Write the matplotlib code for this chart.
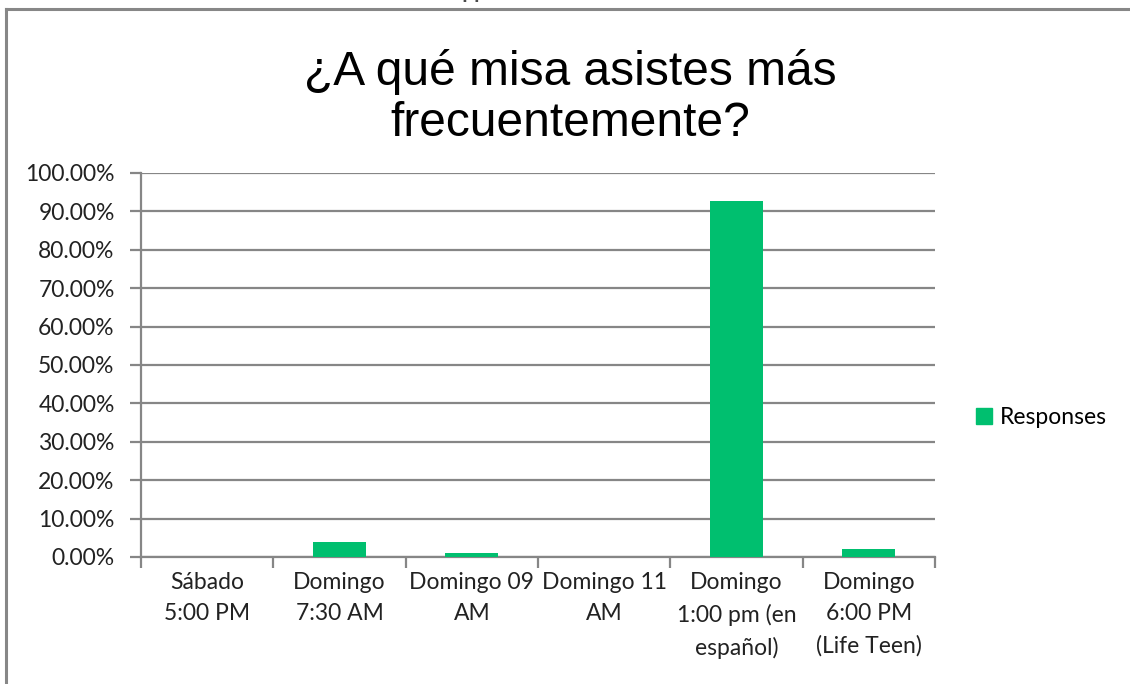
import numpy as np
import matplotlib.pyplot as plt
from matplotlib.ticker import FixedLocator, PercentFormatter
from matplotlib.lines import Line2D

# data
categories = ['Sábado\n5:00 PM', 'Domingo\n7:30 AM', 'Domingo 09\nAM',
              'Domingo 11\nAM', 'Domingo\n1:00 pm (en\nespañol)',
              'Domingo\n6:00 PM\n(Life Teen)']
responses = [0.0, 4.0, 0.96, 0.0, 92.7, 2.0]
yticks = [0, 10, 20, 30, 40, 50, 60, 70, 80, 90, 100]

green = '#00BF6F'
grid = '#868686'
tickfont = 'Lato'
fs = 16.5

fig = plt.figure(figsize=(11.3, 6.84), dpi=100)
ax = fig.add_axes([0.1248, 0.1857, 0.7026, 0.5614])

x = np.arange(len(categories))
ax.bar(x, responses, width=0.4, color=green, zorder=3)

ax.set_xlim(-0.5, len(categories) - 0.5)
ax.set_ylim(0, 100)
ax.set_yticks(yticks)
ax.yaxis.set_major_formatter(PercentFormatter(decimals=2))
ax.yaxis.grid(True, color=grid, linewidth=1.6, zorder=0)
ax.set_axisbelow(True)

ax.set_xticks(x)
ax.set_xticklabels(categories, fontsize=fs, family=tickfont, color='#222222',
                   linespacing=1.6, va='top')
ax.xaxis.set_minor_locator(FixedLocator(np.arange(-0.5, len(categories), 1)))
ax.tick_params(axis='x', which='major', length=0, pad=11)
ax.tick_params(axis='x', which='minor', length=8, width=1.6, color=grid)
ax.tick_params(axis='y', length=8, width=1.6, color=grid, pad=11)
for lab in ax.get_yticklabels():
    lab.set_family(tickfont)
    lab.set_fontsize(fs)
    lab.set_color('#222222')

for s in ['top', 'right']:
    ax.spines[s].set_visible(False)
for s in ['left', 'bottom']:
    ax.spines[s].set_color(grid)
    ax.spines[s].set_linewidth(1.6)

fig.text(0.505, 0.857, '¿A qué misa asistes más\nfrecuentemente?', ha='center',
         va='center', fontsize=34.5, family='Liberation Sans', linespacing=1.17)

handle = Line2D([], [], marker='s', linestyle='none', markersize=11,
                color=green)
fig.legend([handle], ['Responses'], loc='center left',
           bbox_to_anchor=(0.84, 0.39), frameon=False,
           prop={'family': tickfont, 'size': fs}, handletextpad=0.1,
           handlelength=1.2)

# frame of the exported picture and clipped heading above it
fig.add_artist(Line2D([0.0055, 1.0], [0.987, 0.987], color='#878787',
                      linewidth=2.2, transform=fig.transFigure))
fig.add_artist(Line2D([0.0055, 0.0055], [0.0, 0.987], color='#878787',
                      linewidth=2.2, transform=fig.transFigure))
fig.text(0.383, 1.0025, 'Skipped: 0', fontsize=14, fontweight='bold',
         family='Liberation Sans', color='#4a4a4a', va='baseline')

fig.savefig('out.png', dpi=100, facecolor='white')
